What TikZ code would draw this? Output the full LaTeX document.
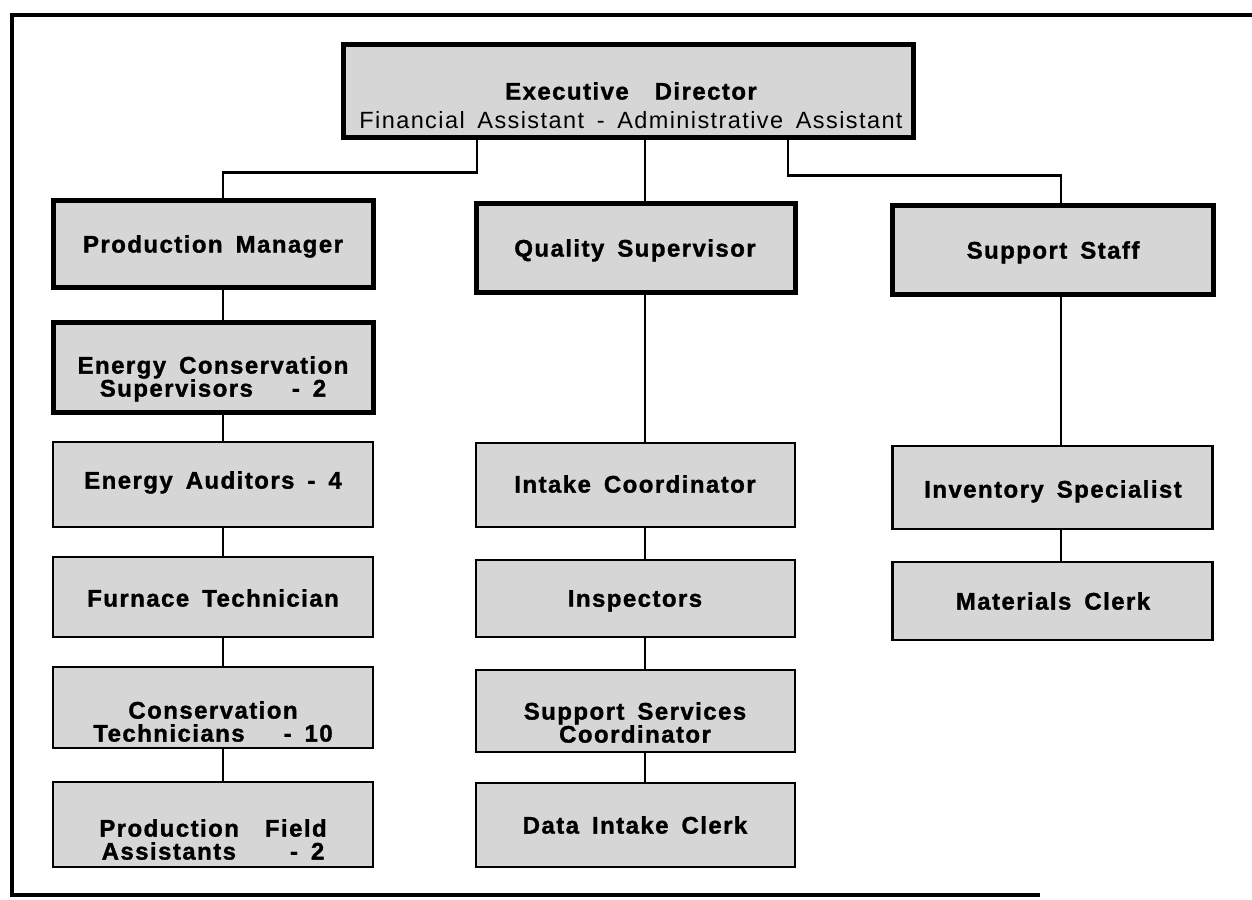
\documentclass[tikz,border=0pt]{standalone}
\usepackage{fontspec}
\setmainfont{Liberation Sans}
\newfontfamily\chartfont[LetterSpace=6,WordSpace=1.6,BoldFeatures={FakeBold=1.3}]{Liberation Sans}
\begin{document}
\begin{tikzpicture}[x=1pt,y=-1pt,
  frame/.style={line width=4.5pt},
  box/.style={draw, line width=2.6pt, fill=gray!32, inner sep=0pt, minimum width=320pt},
  boldbox/.style={box, line width=5pt},
  txt/.style={inner sep=0pt, anchor=north, align=center,
    font=\chartfont\fontsize{24}{23}\selectfont\bfseries},
  conn/.style={line width=2.8pt}]
\useasboundingbox (0,0) rectangle (1252,899);

% page frame (open on the right)
\draw[frame] (1252,15) -- (12,15) -- (12,895) -- (1040,895);

% head of the organisation
\node[boldbox, minimum width=570pt, minimum height=92pt] (ed) at (628,91) {};
\node[txt, font=\chartfont\fontsize{23.5}{29}\selectfont] (ed-t) at (631,82)
  {{\fontsize{24}{29}\selectfont\bfseries Executive\ \ Director}\\Financial Assistant - Administrative Assistant};

% production column
\node[boldbox, minimum height=87pt] (pm)  at (213,243.5) {};
\node[boldbox, minimum height=90pt] (ecs) at (213,367)   {};
\node[box, minimum height=85pt]     (ea)  at (213,484.5) {};
\node[box, minimum height=80pt]     (ft)  at (213,597)   {};
\node[box, minimum height=81pt]     (ct)  at (213,707.5) {};
\node[box, minimum height=85pt]     (pfa) at (213,824.5) {};

\node[txt] (pm-t)  at (213,235) {Production Manager};
\node[txt] (ecs-t) at (213,356) {Energy Conservation\\Supervisors\ \ \ - 2};
\node[txt] (ea-t)  at (213,471) {Energy Auditors - 4};
\node[txt] (ft-t)  at (213,589) {Furnace Technician};
\node[txt] (ct-t)  at (213,701) {Conservation\\Technicians\ \ \ - 10};
\node[txt] (pfa-t) at (213,819) {Production\ \ Field\\Assistants\hspace{54pt}- 2};

% quality column
\node[boldbox, minimum width=319pt, minimum height=89pt] (qs)   at (635.5,247.5) {};
\node[box, minimum width=319pt, minimum height=84pt]     (ic)   at (635.5,485)   {};
\node[box, minimum width=319pt, minimum height=77pt]     (insp) at (635.5,598.5) {};
\node[box, minimum width=319pt, minimum height=82pt]     (ssc)  at (635.5,711)   {};
\node[box, minimum width=319pt, minimum height=84pt]     (dic)  at (635.5,825)   {};

\node[txt] (qs-t)   at (635,239) {Quality Supervisor};
\node[txt] (ic-t)   at (635,475) {Intake Coordinator};
\node[txt] (insp-t) at (635,590) {Inspectors};
\node[txt] (ssc-t)  at (635,702) {Support Services\\Coordinator};
\node[txt] (dic-t)  at (635,816) {Data Intake Clerk};

% support column
\node[boldbox, minimum width=321pt, minimum height=89pt] (ss) at (1052.5,249.5) {};
\node[box, minimum height=83pt] (is) at (1052.5,487.5) {};
\node[box, minimum height=78pt] (mc) at (1052.5,601)   {};

\node[txt] (ss-t) at (1053,241) {Support Staff};
\node[txt] (is-t) at (1053,480) {Inventory Specialist};
\node[txt] (mc-t) at (1053,592) {Materials Clerk};

% connector spines
\coordinate (c1) at (223,0);
\coordinate (c2) at (645,0);
\coordinate (c3) at (1061,0);
\coordinate (edL) at (477,0);
\coordinate (edR) at (788,0);

\draw[conn] (ed.south -| edL) -- ++(0,33) -| (pm.north -| c1);
\draw[conn] (ed.south -| c2) -- (qs.north -| c2);
\draw[conn] (ed.south -| edR) -- ++(0,36) -| (ss.north -| c3);

\draw[conn] (pm.south -| c1)  -- (ecs.north -| c1);
\draw[conn] (ecs.south -| c1) -- (ea.north -| c1);
\draw[conn] (ea.south -| c1)  -- (ft.north -| c1);
\draw[conn] (ft.south -| c1)  -- (ct.north -| c1);
\draw[conn] (ct.south -| c1)  -- (pfa.north -| c1);

\draw[conn] (qs.south -| c2)   -- (ic.north -| c2);
\draw[conn] (ic.south -| c2)   -- (insp.north -| c2);
\draw[conn] (insp.south -| c2) -- (ssc.north -| c2);
\draw[conn] (ssc.south -| c2)  -- (dic.north -| c2);

\draw[conn] (ss.south -| c3) -- (is.north -| c3);
\draw[conn] (is.south -| c3) -- (mc.north -| c3);
\end{tikzpicture}
\end{document}
